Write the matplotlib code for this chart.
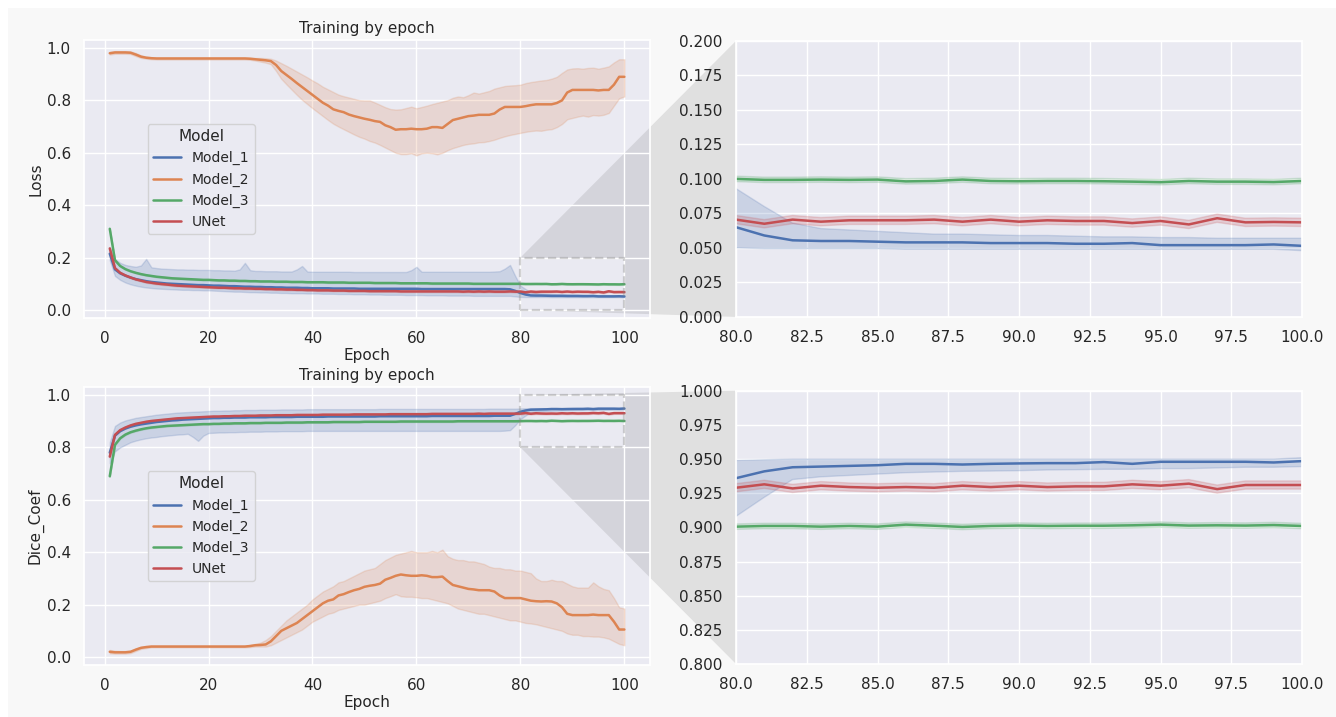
import matplotlib
matplotlib.use("Agg")
import matplotlib.pyplot as plt
import seaborn as sns
import numpy as np
from matplotlib.patches import Polygon, Rectangle

epochs = list(range(1, 101))
models = ["Model_1", "Model_2", "Model_3", "UNet"]

# ---- Loss per epoch (mean of runs) ----
loss_model_1 = [
    0.215, 0.155, 0.140, 0.131, 0.124, 0.118, 0.114, 0.110, 0.107, 0.105,
    0.103, 0.101, 0.100, 0.099, 0.098, 0.097, 0.096, 0.095, 0.095, 0.094,
    0.093, 0.093, 0.092, 0.091, 0.091, 0.090, 0.089, 0.089, 0.088, 0.088,
    0.087, 0.087, 0.086, 0.086, 0.085, 0.085, 0.085, 0.084, 0.084, 0.083,
    0.083, 0.083, 0.083, 0.082, 0.082, 0.082, 0.082, 0.082, 0.081, 0.081,
    0.081, 0.081, 0.081, 0.081, 0.081, 0.081, 0.081, 0.081, 0.081, 0.081,
    0.080, 0.080, 0.080, 0.080, 0.080, 0.080, 0.080, 0.080, 0.080, 0.080,
    0.080, 0.080, 0.080, 0.080, 0.080, 0.080, 0.080, 0.079, 0.073, 0.065,
    0.059, 0.0555, 0.055, 0.055, 0.0545, 0.054, 0.054, 0.054, 0.0535, 0.0535,
    0.0535, 0.053, 0.053, 0.0535, 0.052, 0.052, 0.052, 0.052, 0.0525, 0.0515]
loss_model_1_lo = [
    0.190, 0.130, 0.115, 0.105, 0.098, 0.093, 0.089, 0.086, 0.084, 0.082,
    0.081, 0.080, 0.079, 0.078, 0.077, 0.077, 0.076, 0.076, 0.075, 0.075,
    0.074, 0.073, 0.072, 0.071, 0.070, 0.070, 0.069, 0.068, 0.068, 0.067,
    0.067, 0.066, 0.066, 0.065, 0.065, 0.064, 0.064, 0.064, 0.063, 0.063,
    0.063, 0.062, 0.062, 0.062, 0.061, 0.061, 0.061, 0.060, 0.060, 0.060,
    0.059, 0.059, 0.059, 0.058, 0.058, 0.058, 0.058, 0.057, 0.057, 0.057,
    0.057, 0.056, 0.056, 0.056, 0.056, 0.055, 0.055, 0.055, 0.055, 0.055,
    0.054, 0.054, 0.054, 0.054, 0.054, 0.054, 0.054, 0.054, 0.052, 0.050,
    0.0495, 0.0495, 0.0495, 0.0495, 0.0495, 0.049, 0.049, 0.049, 0.049, 0.049,
    0.049, 0.049, 0.049, 0.049, 0.049, 0.049, 0.049, 0.049, 0.049, 0.048]
loss_model_1_hi = [
    0.240, 0.195, 0.180, 0.172, 0.168, 0.165, 0.170, 0.195, 0.163, 0.160,
    0.158, 0.157, 0.156, 0.155, 0.155, 0.154, 0.154, 0.153, 0.153, 0.153,
    0.152, 0.152, 0.151, 0.151, 0.150, 0.155, 0.180, 0.152, 0.149, 0.149,
    0.148, 0.148, 0.148, 0.147, 0.147, 0.147, 0.155, 0.168, 0.147, 0.146,
    0.146, 0.146, 0.146, 0.146, 0.146, 0.146, 0.146, 0.145, 0.145, 0.145,
    0.145, 0.145, 0.145, 0.145, 0.145, 0.145, 0.145, 0.145, 0.152, 0.165,
    0.146, 0.146, 0.146, 0.146, 0.146, 0.146, 0.146, 0.146, 0.146, 0.146,
    0.146, 0.146, 0.146, 0.146, 0.147, 0.148, 0.158, 0.172, 0.130, 0.093,
    0.080, 0.068, 0.064, 0.063, 0.062, 0.061, 0.060, 0.060, 0.0595, 0.059,
    0.059, 0.0585, 0.058, 0.058, 0.0575, 0.0575, 0.057, 0.057, 0.057, 0.057]

loss_model_2 = [
    0.980, 0.983, 0.983, 0.983, 0.982, 0.975, 0.967, 0.963, 0.961, 0.960,
    0.960, 0.960, 0.960, 0.960, 0.960, 0.960, 0.960, 0.960, 0.960, 0.960,
    0.960, 0.960, 0.960, 0.960, 0.960, 0.960, 0.960, 0.959, 0.957, 0.955,
    0.953, 0.950, 0.935, 0.912, 0.897, 0.882, 0.866, 0.851, 0.836, 0.821,
    0.806, 0.791, 0.780, 0.766, 0.760, 0.755, 0.746, 0.740, 0.735, 0.730,
    0.726, 0.721, 0.718, 0.705, 0.698, 0.688, 0.690, 0.690, 0.692, 0.690,
    0.690, 0.692, 0.698, 0.698, 0.695, 0.710, 0.725, 0.730, 0.735, 0.740,
    0.742, 0.745, 0.745, 0.745, 0.750, 0.765, 0.775, 0.775, 0.775, 0.775,
    0.778, 0.782, 0.785, 0.785, 0.785, 0.785, 0.790, 0.800, 0.830, 0.840,
    0.840, 0.840, 0.840, 0.840, 0.838, 0.840, 0.840, 0.860, 0.890, 0.890]
loss_model_2_lo = [
    0.975, 0.978, 0.978, 0.978, 0.977, 0.969, 0.962, 0.959, 0.957, 0.956,
    0.956, 0.956, 0.956, 0.956, 0.956, 0.956, 0.956, 0.956, 0.956, 0.956,
    0.956, 0.956, 0.956, 0.956, 0.956, 0.956, 0.956, 0.955, 0.952, 0.948,
    0.944, 0.938, 0.912, 0.882, 0.861, 0.841, 0.821, 0.802, 0.786, 0.770,
    0.755, 0.740, 0.725, 0.711, 0.700, 0.690, 0.680, 0.670, 0.661, 0.654,
    0.645, 0.639, 0.630, 0.620, 0.610, 0.600, 0.595, 0.595, 0.598, 0.590,
    0.598, 0.600, 0.598, 0.594, 0.600, 0.610, 0.618, 0.624, 0.630, 0.634,
    0.636, 0.640, 0.641, 0.645, 0.650, 0.657, 0.663, 0.668, 0.672, 0.676,
    0.680, 0.683, 0.685, 0.684, 0.688, 0.690, 0.698, 0.710, 0.728, 0.733,
    0.738, 0.742, 0.738, 0.744, 0.742, 0.745, 0.752, 0.780, 0.808, 0.815]
loss_model_2_hi = [
    0.985, 0.988, 0.988, 0.988, 0.987, 0.981, 0.972, 0.967, 0.965, 0.964,
    0.964, 0.964, 0.964, 0.964, 0.964, 0.964, 0.964, 0.964, 0.964, 0.964,
    0.964, 0.964, 0.964, 0.964, 0.964, 0.964, 0.964, 0.963, 0.962, 0.962,
    0.961, 0.959, 0.952, 0.942, 0.932, 0.921, 0.910, 0.899, 0.888, 0.876,
    0.865, 0.852, 0.842, 0.832, 0.822, 0.816, 0.811, 0.806, 0.801, 0.800,
    0.800, 0.792, 0.783, 0.774, 0.767, 0.765, 0.766, 0.771, 0.776, 0.770,
    0.775, 0.780, 0.786, 0.791, 0.796, 0.801, 0.810, 0.815, 0.812, 0.820,
    0.830, 0.826, 0.831, 0.836, 0.845, 0.850, 0.855, 0.857, 0.858, 0.860,
    0.866, 0.870, 0.873, 0.876, 0.878, 0.883, 0.890, 0.905, 0.918, 0.922,
    0.923, 0.921, 0.924, 0.925, 0.921, 0.925, 0.930, 0.945, 0.957, 0.957]

loss_model_3 = [
    0.310, 0.190, 0.168, 0.156, 0.148, 0.142, 0.137, 0.133, 0.130, 0.127,
    0.125, 0.123, 0.121, 0.120, 0.119, 0.118, 0.117, 0.116, 0.115, 0.115,
    0.114, 0.113, 0.113, 0.112, 0.112, 0.111, 0.111, 0.110, 0.110, 0.109,
    0.109, 0.109, 0.108, 0.108, 0.108, 0.107, 0.107, 0.107, 0.106, 0.106,
    0.106, 0.106, 0.105, 0.105, 0.105, 0.105, 0.104, 0.104, 0.104, 0.104,
    0.104, 0.103, 0.103, 0.103, 0.103, 0.103, 0.102, 0.102, 0.102, 0.102,
    0.102, 0.102, 0.101, 0.101, 0.101, 0.101, 0.101, 0.101, 0.101, 0.101,
    0.100, 0.100, 0.100, 0.100, 0.100, 0.100, 0.100, 0.100, 0.100, 0.100,
    0.0993, 0.0993, 0.0995, 0.0993, 0.0995, 0.0982, 0.0985, 0.0995, 0.0985, 0.0983,
    0.0985, 0.0985, 0.0983, 0.0980, 0.0976, 0.0985, 0.0980, 0.0980, 0.0977, 0.0985]

loss_unet = [
    0.235, 0.160, 0.142, 0.132, 0.124, 0.117, 0.112, 0.107, 0.104, 0.101,
    0.099, 0.097, 0.095, 0.093, 0.092, 0.091, 0.090, 0.089, 0.088, 0.087,
    0.086, 0.085, 0.085, 0.084, 0.083, 0.083, 0.082, 0.082, 0.081, 0.081,
    0.080, 0.080, 0.079, 0.079, 0.078, 0.078, 0.077, 0.077, 0.076, 0.076,
    0.075, 0.075, 0.075, 0.074, 0.074, 0.074, 0.073, 0.073, 0.073, 0.073,
    0.072, 0.072, 0.072, 0.072, 0.072, 0.072, 0.071, 0.071, 0.071, 0.071,
    0.071, 0.071, 0.071, 0.071, 0.071, 0.071, 0.071, 0.071, 0.070, 0.071,
    0.070, 0.071, 0.070, 0.071, 0.070, 0.070, 0.070, 0.071, 0.070, 0.0705,
    0.0675, 0.0705, 0.069, 0.070, 0.070, 0.070, 0.0705, 0.069, 0.0705, 0.069,
    0.070, 0.0695, 0.0695, 0.068, 0.0695, 0.067, 0.0715, 0.0685, 0.0688, 0.0685]

# ---- Dice coefficient per epoch ----
dice_model_1 = [
    0.780, 0.845, 0.862, 0.872, 0.879, 0.884, 0.888, 0.891, 0.894, 0.897,
    0.899, 0.901, 0.903, 0.904, 0.906, 0.907, 0.908, 0.909, 0.910, 0.911,
    0.912, 0.912, 0.913, 0.913, 0.914, 0.914, 0.914, 0.915, 0.915, 0.915,
    0.915, 0.916, 0.916, 0.916, 0.916, 0.916, 0.917, 0.917, 0.917, 0.917,
    0.917, 0.917, 0.918, 0.918, 0.918, 0.918, 0.918, 0.918, 0.918, 0.918,
    0.918, 0.918, 0.919, 0.919, 0.919, 0.919, 0.919, 0.919, 0.919, 0.919,
    0.919, 0.919, 0.920, 0.920, 0.920, 0.920, 0.920, 0.920, 0.920, 0.920,
    0.920, 0.920, 0.920, 0.920, 0.921, 0.921, 0.921, 0.921, 0.928, 0.936,
    0.941, 0.944, 0.9445, 0.945, 0.9455, 0.9465, 0.9465, 0.946, 0.9465, 0.9468,
    0.947, 0.947, 0.9478, 0.9465, 0.948, 0.948, 0.948, 0.948, 0.9475, 0.9485]
dice_model_1_lo = [
    0.740, 0.785, 0.800, 0.810, 0.820, 0.826, 0.831, 0.835, 0.838, 0.840,
    0.843, 0.845, 0.847, 0.849, 0.850, 0.852, 0.840, 0.825, 0.845, 0.855,
    0.856, 0.857, 0.857, 0.858, 0.858, 0.859, 0.859, 0.860, 0.860, 0.860,
    0.861, 0.861, 0.861, 0.862, 0.862, 0.862, 0.862, 0.862, 0.863, 0.863,
    0.863, 0.863, 0.863, 0.863, 0.863, 0.863, 0.863, 0.863, 0.863, 0.863,
    0.863, 0.863, 0.863, 0.863, 0.863, 0.863, 0.863, 0.863, 0.863, 0.863,
    0.863, 0.863, 0.863, 0.863, 0.863, 0.863, 0.863, 0.863, 0.863, 0.863,
    0.863, 0.863, 0.863, 0.863, 0.863, 0.863, 0.864, 0.866, 0.885, 0.908,
    0.922, 0.935, 0.937, 0.938, 0.939, 0.940, 0.9405, 0.941, 0.9412, 0.9415,
    0.942, 0.9422, 0.9425, 0.9425, 0.943, 0.943, 0.9435, 0.944, 0.944, 0.9445]
dice_model_1_hi = [
    0.820, 0.882, 0.895, 0.903, 0.908, 0.913, 0.916, 0.919, 0.922, 0.925,
    0.927, 0.929, 0.931, 0.933, 0.934, 0.935, 0.936, 0.937, 0.938, 0.939,
    0.940, 0.940, 0.941, 0.941, 0.942, 0.942, 0.943, 0.943, 0.943, 0.944,
    0.944, 0.944, 0.944, 0.945, 0.945, 0.945, 0.945, 0.945, 0.946, 0.946,
    0.946, 0.946, 0.946, 0.946, 0.946, 0.946, 0.946, 0.946, 0.946, 0.946,
    0.946, 0.946, 0.947, 0.947, 0.947, 0.947, 0.947, 0.947, 0.947, 0.947,
    0.947, 0.947, 0.947, 0.947, 0.947, 0.947, 0.947, 0.947, 0.947, 0.947,
    0.947, 0.947, 0.947, 0.948, 0.948, 0.948, 0.948, 0.948, 0.948, 0.949,
    0.9495, 0.950, 0.950, 0.950, 0.950, 0.950, 0.950, 0.950, 0.950, 0.950,
    0.950, 0.950, 0.950, 0.950, 0.950, 0.950, 0.950, 0.950, 0.950, 0.951]

dice_model_2 = [
    0.020, 0.018, 0.018, 0.018, 0.020, 0.028, 0.035, 0.038, 0.040, 0.040,
    0.040, 0.040, 0.040, 0.040, 0.040, 0.040, 0.040, 0.040, 0.040, 0.040,
    0.040, 0.040, 0.040, 0.040, 0.040, 0.040, 0.040, 0.042, 0.045, 0.046,
    0.048, 0.060, 0.080, 0.100, 0.110, 0.120, 0.130, 0.145, 0.160, 0.175,
    0.190, 0.205, 0.215, 0.220, 0.235, 0.240, 0.248, 0.255, 0.260, 0.268,
    0.272, 0.275, 0.280, 0.295, 0.302, 0.310, 0.315, 0.312, 0.310, 0.310,
    0.312, 0.310, 0.305, 0.305, 0.307, 0.290, 0.275, 0.270, 0.265, 0.260,
    0.258, 0.255, 0.255, 0.255, 0.250, 0.235, 0.225, 0.225, 0.225, 0.225,
    0.220, 0.215, 0.213, 0.212, 0.213, 0.212, 0.205, 0.190, 0.165, 0.160,
    0.160, 0.160, 0.160, 0.162, 0.160, 0.160, 0.160, 0.135, 0.105, 0.105]
dice_model_2_lo = [
    0.014, 0.013, 0.013, 0.013, 0.015, 0.023, 0.031, 0.034, 0.037, 0.037,
    0.037, 0.037, 0.037, 0.037, 0.037, 0.037, 0.037, 0.037, 0.037, 0.037,
    0.037, 0.037, 0.037, 0.037, 0.037, 0.037, 0.037, 0.038, 0.040, 0.040,
    0.040, 0.045, 0.055, 0.065, 0.075, 0.085, 0.095, 0.105, 0.120, 0.135,
    0.145, 0.155, 0.165, 0.170, 0.180, 0.185, 0.190, 0.195, 0.200, 0.200,
    0.205, 0.210, 0.215, 0.225, 0.232, 0.240, 0.232, 0.230, 0.230, 0.228,
    0.225, 0.225, 0.220, 0.215, 0.210, 0.205, 0.195, 0.185, 0.180, 0.175,
    0.170, 0.165, 0.165, 0.160, 0.155, 0.150, 0.145, 0.140, 0.140, 0.135,
    0.130, 0.128, 0.125, 0.120, 0.115, 0.110, 0.105, 0.100, 0.090, 0.085,
    0.085, 0.080, 0.080, 0.078, 0.078, 0.075, 0.070, 0.060, 0.050, 0.045]
dice_model_2_hi = [
    0.027, 0.024, 0.023, 0.023, 0.025, 0.033, 0.039, 0.042, 0.043, 0.043,
    0.043, 0.043, 0.043, 0.043, 0.043, 0.043, 0.043, 0.043, 0.043, 0.043,
    0.043, 0.043, 0.043, 0.043, 0.043, 0.043, 0.043, 0.046, 0.050, 0.055,
    0.065, 0.080, 0.100, 0.120, 0.140, 0.155, 0.170, 0.185, 0.200, 0.220,
    0.235, 0.250, 0.260, 0.270, 0.285, 0.290, 0.300, 0.310, 0.320, 0.330,
    0.335, 0.340, 0.355, 0.370, 0.380, 0.390, 0.395, 0.400, 0.405, 0.400,
    0.400, 0.400, 0.405, 0.400, 0.410, 0.385, 0.375, 0.370, 0.370, 0.365,
    0.365, 0.360, 0.355, 0.345, 0.340, 0.340, 0.335, 0.335, 0.330, 0.330,
    0.325, 0.320, 0.300, 0.290, 0.290, 0.295, 0.290, 0.290, 0.280, 0.270,
    0.265, 0.265, 0.265, 0.285, 0.270, 0.260, 0.255, 0.225, 0.190, 0.185]

dice_model_3 = [
    0.690, 0.810, 0.835, 0.849, 0.858, 0.864, 0.869, 0.873, 0.876, 0.878,
    0.880, 0.882, 0.883, 0.884, 0.885, 0.886, 0.887, 0.888, 0.889, 0.889,
    0.890, 0.890, 0.891, 0.891, 0.892, 0.892, 0.892, 0.893, 0.893, 0.893,
    0.894, 0.894, 0.894, 0.894, 0.895, 0.895, 0.895, 0.895, 0.896, 0.896,
    0.896, 0.896, 0.896, 0.897, 0.897, 0.897, 0.897, 0.897, 0.897, 0.898,
    0.898, 0.898, 0.898, 0.898, 0.898, 0.898, 0.899, 0.899, 0.899, 0.899,
    0.899, 0.899, 0.899, 0.899, 0.899, 0.899, 0.899, 0.900, 0.900, 0.900,
    0.900, 0.900, 0.900, 0.900, 0.900, 0.900, 0.900, 0.900, 0.900, 0.9005,
    0.901, 0.901, 0.9005, 0.901, 0.9005, 0.902, 0.9012, 0.9003, 0.901, 0.9013,
    0.901, 0.9012, 0.9012, 0.9015, 0.902, 0.9013, 0.9015, 0.9013, 0.9017, 0.901]

dice_unet = [
    0.765, 0.848, 0.866, 0.876, 0.884, 0.890, 0.894, 0.898, 0.901, 0.903,
    0.905, 0.907, 0.909, 0.911, 0.912, 0.913, 0.914, 0.915, 0.916, 0.917,
    0.918, 0.918, 0.919, 0.919, 0.920, 0.920, 0.921, 0.921, 0.921, 0.922,
    0.922, 0.922, 0.923, 0.923, 0.923, 0.923, 0.924, 0.924, 0.924, 0.924,
    0.924, 0.925, 0.925, 0.925, 0.925, 0.925, 0.925, 0.926, 0.926, 0.926,
    0.926, 0.926, 0.926, 0.926, 0.927, 0.927, 0.927, 0.927, 0.927, 0.927,
    0.927, 0.927, 0.928, 0.928, 0.928, 0.928, 0.928, 0.928, 0.928, 0.928,
    0.928, 0.929, 0.928, 0.929, 0.929, 0.929, 0.929, 0.929, 0.929, 0.929,
    0.9315, 0.9285, 0.9305, 0.9295, 0.929, 0.9295, 0.929, 0.9305, 0.9295, 0.9305,
    0.9295, 0.930, 0.930, 0.9315, 0.9305, 0.932, 0.928, 0.931, 0.931, 0.931]

# half width of the thin error bands (Model_3, UNet)
loss_spread = {"Model_3": 0.002, "UNet": 0.003}
dice_spread = {"Model_3": 0.002, "UNet": 0.003}

loss_series = {
    "Model_1": (loss_model_1, loss_model_1_lo, loss_model_1_hi),
    "Model_2": (loss_model_2, loss_model_2_lo, loss_model_2_hi),
    "Model_3": (loss_model_3, None, None),
    "UNet": (loss_unet, None, None),
}
dice_series = {
    "Model_1": (dice_model_1, dice_model_1_lo, dice_model_1_hi),
    "Model_2": (dice_model_2, dice_model_2_lo, dice_model_2_hi),
    "Model_3": (dice_model_3, None, None),
    "UNet": (dice_unet, None, None),
}

sns.set_theme(style="darkgrid")
colors = dict(zip(models, sns.color_palette("deep")[:4]))

fig = plt.figure(figsize=(13.36, 7.17), dpi=100)
fig.patch.set_facecolor("white")
# light grey page behind the plots, with a thin white margin top/left
fig.add_artist(Rectangle((8 / 1336, 0), 1 - 8 / 1336, 1 - 8 / 717,
                         transform=fig.transFigure, fc="#f8f8f8", ec="none", zorder=-10))


def draw_lines(ax, series, spread):
    x = np.array(epochs)
    for name in models:
        mean, lo, hi = series[name]
        mean = np.array(mean)
        if lo is None:
            lo = mean - spread[name]
            hi = mean + spread[name]
        ax.fill_between(x, lo, hi, color=colors[name], alpha=0.2)
        ax.plot(x, mean, color=colors[name], lw=1.8, label=name)


def zoom_link(ax_main, ax_zoom, x0, x1, y0, y1):
    to_fig = fig.transFigure.inverted()
    pts = [ax_main.transData.transform((x0, y1)),
           ax_zoom.transAxes.transform((0, 1)),
           ax_zoom.transAxes.transform((0, 0)),
           ax_main.transData.transform((x0, y0))]
    poly = Polygon(to_fig.transform(pts), closed=True, transform=fig.transFigure,
                   fc="gray", ec="none", alpha=0.2, clip_on=False, zorder=0.2)
    ax_main.add_artist(poly)
    ax_main.add_artist(Rectangle((x0, y0), x1 - x0, y1 - y0, fc=ax_main.get_facecolor(),
                                 ec="none", zorder=0.3))
    ax_main.add_artist(Rectangle((x0, y0), x1 - x0, y1 - y0, fill=False, ec="gray",
                                 alpha=0.35, ls="--", lw=1.6, zorder=2.5))


rows = [
    (loss_series, loss_spread, "Loss", 0.5565, 0.385, (0.0, 0.2),
     [0.0, 0.025, 0.05, 0.075, 0.1, 0.125, 0.15, 0.175, 0.2]),
    (dice_series, dice_spread, "Dice_Coef", 0.0725, 0.381, (0.8, 1.0),
     [0.8, 0.825, 0.85, 0.875, 0.9, 0.925, 0.95, 0.975, 1.0]),
]

for series, spread, ylabel, bottom, zoom_h, zoom_y, zoom_ticks in rows:
    ax = fig.add_axes([0.0629, bottom, 0.4237, 0.3877])
    draw_lines(ax, series, spread)
    ax.set_xlim(-3.95, 104.95)
    ax.set_ylim(-0.0305, 1.0305)
    ax.set_xticks([0, 20, 40, 60, 80, 100])
    ax.set_yticks([0.0, 0.2, 0.4, 0.6, 0.8, 1.0])
    ax.set_title("Training by epoch", fontsize=11, pad=5)
    ax.set_xlabel("Epoch", fontsize=11, labelpad=1)
    ax.set_ylabel(ylabel, fontsize=11, labelpad=2)
    ax.legend(title="Model", loc="center left", bbox_to_anchor=(0.1, 0.5),
              fontsize=10, title_fontsize=11)

    axz = fig.add_axes([0.5509, bottom + 0.0015, 0.4237, zoom_h])
    draw_lines(axz, series, spread)
    axz.set_xlim(80, 100)
    axz.set_ylim(*zoom_y)
    axz.set_xticks([80, 82.5, 85, 87.5, 90, 92.5, 95, 97.5, 100])
    axz.set_yticks(zoom_ticks)
    axz.set_xlabel("")
    axz.set_ylabel("")

    zoom_link(ax, axz, 80, 100, zoom_y[0], zoom_y[1])

fig.savefig("out.png", dpi=100, facecolor=fig.get_facecolor())
